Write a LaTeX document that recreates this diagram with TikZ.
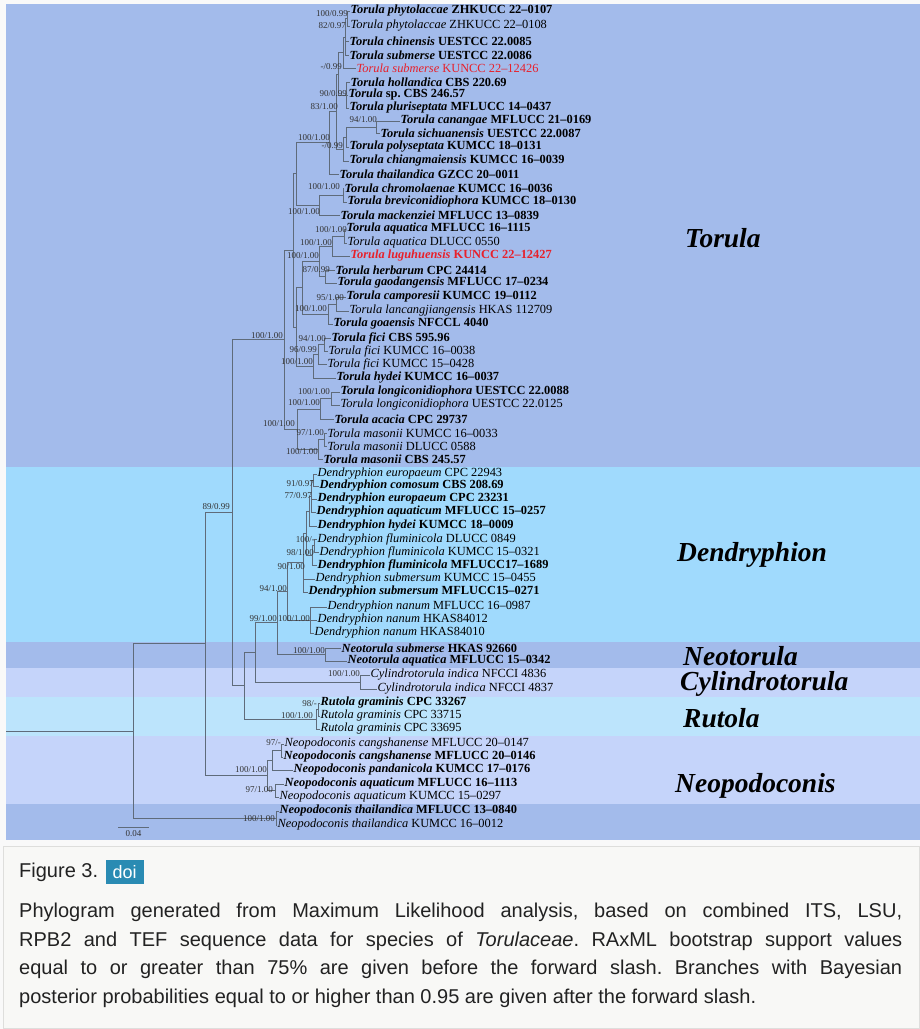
\documentclass[tikz,border=0pt]{standalone}
\usepackage{fontspec}
\setmainfont{Liberation Serif}
\newfontfamily\capsans{Liberation Sans}
\usetikzlibrary{positioning}
\definecolor{torband}{HTML}{A3BBEB}
\definecolor{denband}{HTML}{A0DAFD}
\definecolor{lavband}{HTML}{C5D4FA}
\definecolor{rutband}{HTML}{BCE4FC}
\definecolor{branchgray}{HTML}{5F6B7A}
\definecolor{newred}{HTML}{E8202A}
\definecolor{captionbg}{HTML}{F8F8F6}
\definecolor{captionline}{HTML}{DEDEDC}
\definecolor{doiblue}{HTML}{2A8BB3}
\definecolor{captext}{HTML}{222222}

\newcommand{\taxB}[2]{\textbf{\textit{#1} #2}}
\newcommand{\taxN}[2]{\textit{#1} #2}

\begin{document}
\frenchspacing
\begin{tikzpicture}[x=1pt, y=-1pt,
  tip/.style={anchor=west, inner sep=0.5pt, font=\fontsize{12.4}{13}\selectfont},
  newtip/.style={tip, text=newred},
  support/.style={anchor=east, inner sep=0pt, font=\fontsize{9}{10}\selectfont, text=black!80},
  clade/.style={anchor=west, inner sep=0pt, font=\fontsize{27.5}{30}\selectfont\bfseries\itshape},
  branch/.style={draw=branchgray, line width=0.7pt},
]
\useasboundingbox (0,0) rectangle (920,1029);
\fill[white!95!gray] (0,0) rectangle (920,1029);

% clade bands
\fill[torband] (6,4) rectangle (920,467);
\fill[denband] (6,467) rectangle (920,642);
\fill[torband] (6,642) rectangle (920,668);
\fill[lavband] (6,668) rectangle (920,697);
\fill[rutband] (6,697) rectangle (920,736);
\fill[lavband] (6,736) rectangle (920,804);
\fill[torband] (6,804) rectangle (920,840);

% taxa
\node[tip] (t01) at (350,11) {\taxB{Torula phytolaccae}{ZHKUCC 22--0107}};
\node[tip] (t02) at (350,26) {\taxN{Torula phytolaccae}{ZHKUCC 22--0108}};
\node[tip] (t03) at (349,41) {\taxB{Torula chinensis}{UESTCC 22.0085}};
\node[tip] (t04) at (349,55) {\taxB{Torula submerse}{UESTCC 22.0086}};
\node[newtip] (t05) at (356,68) {\taxN{Torula submerse}{KUNCC 22--12426}};
\node[tip] (t06) at (350,82) {\taxB{Torula hollandica}{CBS 220.69}};
\node[tip] (t07) at (348,95) {\taxB{Torula}{sp. CBS 246.57}};
\node[tip] (t08) at (349,108) {\taxB{Torula pluriseptata}{MFLUCC 14--0437}};
\node[tip] (t09) at (400,121) {\taxB{Torula canangae}{MFLUCC 21--0169}};
\node[tip] (t10) at (380,133) {\taxB{Torula sichuanensis}{UESTCC 22.0087}};
\node[tip] (t11) at (349,147) {\taxB{Torula polyseptata}{KUMCC 18--0131}};
\node[tip] (t12) at (349,161) {\taxB{Torula chiangmaiensis}{KUMCC 16--0039}};
\node[tip] (t13) at (339,174) {\taxB{Torula thailandica}{GZCC 20--0011}};
\node[tip] (t14) at (344,188) {\taxB{Torula chromolaenae}{KUMCC 16--0036}};
\node[tip] (t15) at (347,202) {\taxB{Torula breviconidiophora}{KUMCC 18--0130}};
\node[tip] (t16) at (340,215) {\taxB{Torula mackenziei}{MFLUCC 13--0839}};
\node[tip] (t17) at (346,229) {\taxB{Torula aquatica}{MFLUCC 16--1115}};
\node[tip] (t18) at (347,243) {\taxN{Torula aquatica}{DLUCC 0550}};
\node[newtip] (t19) at (350,256) {\taxB{Torula luguhuensis}{KUNCC 22--12427}};
\node[tip] (t20) at (335,270) {\taxB{Torula herbarum}{CPC 24414}};
\node[tip] (t21) at (337,283) {\taxB{Torula gaodangensis}{MFLUCC 17--0234}};
\node[tip] (t22) at (346,297) {\taxB{Torula camporesii}{KUMCC 19--0112}};
\node[tip] (t23) at (349,311) {\taxN{Torula lancangjiangensis}{HKAS 112709}};
\node[tip] (t24) at (333,324) {\taxB{Torula goaensis}{NFCCL 4040}};
\node[tip] (t25) at (331,338) {\taxB{Torula fici}{CBS 595.96}};
\node[tip] (t26) at (328,351) {\taxN{Torula fici}{KUMCC 16--0038}};
\node[tip] (t27) at (327,364) {\taxN{Torula fici}{KUMCC 15--0428}};
\node[tip] (t28) at (336,378) {\taxB{Torula hydei}{KUMCC 16--0037}};
\node[tip] (t29) at (340,392) {\taxB{Torula longiconidiophora}{UESTCC 22.0088}};
\node[tip] (t30) at (340,405) {\taxN{Torula longiconidiophora}{UESTCC 22.0125}};
\node[tip] (t31) at (334,419) {\taxB{Torula acacia}{CPC 29737}};
\node[tip] (t32) at (327,433) {\taxN{Torula masonii}{KUMCC 16--0033}};
\node[tip] (t33) at (327,446) {\taxN{Torula masonii}{DLUCC 0588}};
\node[tip] (t34) at (323,459) {\taxB{Torula masonii}{CBS 245.57}};
\node[tip] (t35) at (317,474) {\taxN{Dendryphion europaeum}{CPC 22943}};
\node[tip] (t36) at (319,486) {\taxB{Dendryphion comosum}{CBS 208.69}};
\node[tip] (t37) at (317,499) {\taxB{Dendryphion europaeum}{CPC 23231}};
\node[tip] (t38) at (316,512) {\taxB{Dendryphion aquaticum}{MFLUCC 15--0257}};
\node[tip] (t39) at (317,526) {\taxB{Dendryphion hydei}{KUMCC 18--0009}};
\node[tip] (t40) at (317,539) {\taxN{Dendryphion fluminicola}{DLUCC 0849}};
\node[tip] (t41) at (319,552) {\taxN{Dendryphion fluminicola}{KUMCC 15--0321}};
\node[tip] (t42) at (317,565) {\taxB{Dendryphion fluminicola}{MFLUCC17--1689}};
\node[tip] (t43) at (315,579) {\taxN{Dendryphion submersum}{KUMCC 15--0455}};
\node[tip] (t44) at (308,592) {\taxB{Dendryphion submersum}{MFLUCC15--0271}};
\node[tip] (t45) at (327,607) {\taxN{Dendryphion nanum}{MFLUCC 16--0987}};
\node[tip] (t46) at (317,620) {\taxN{Dendryphion nanum}{HKAS84012}};
\node[tip] (t47) at (314,633) {\taxN{Dendryphion nanum}{HKAS84010}};
\node[tip] (t48) at (341,648) {\taxB{Neotorula submerse}{HKAS 92660}};
\node[tip] (t49) at (347,661) {\taxB{Neotorula aquatica}{MFLUCC 15--0342}};
\node[tip] (t50) at (370,675) {\taxN{Cylindrotorula indica}{NFCCI 4836}};
\node[tip] (t51) at (377,689) {\taxN{Cylindrotorula indica}{NFCCI 4837}};
\node[tip] (t52) at (320,703) {\taxB{Rutola graminis}{CPC 33267}};
\node[tip] (t53) at (320,716) {\taxN{Rutola graminis}{CPC 33715}};
\node[tip] (t54) at (320,729) {\taxN{Rutola graminis}{CPC 33695}};
\node[tip] (t55) at (284,744) {\taxN{Neopodoconis cangshanense}{MFLUCC 20--0147}};
\node[tip] (t56) at (283,757) {\taxB{Neopodoconis cangshanense}{MFLUCC 20--0146}};
\node[tip] (t57) at (293,770) {\taxB{Neopodoconis pandanicola}{KUMCC 17--0176}};
\node[tip] (t58) at (284,784) {\taxB{Neopodoconis aquaticum}{MFLUCC 16--1113}};
\node[tip] (t59) at (279,797) {\taxN{Neopodoconis aquaticum}{KUMCC 15--0297}};
\node[tip] (t60) at (279,811) {\taxB{Neopodoconis thailandica}{MFLUCC 13--0840}};
\node[tip] (t61) at (277,825) {\taxN{Neopodoconis thailandica}{KUMCC 16--0012}};

% internal nodes
\coordinate (nA) at (347,18.5);  \coordinate (nB) at (345,37);
\coordinate (nC) at (343,52.5);  \coordinate (nD) at (346,95);
\coordinate (nE) at (338,74);    \coordinate (nH) at (376,127);
\coordinate (nI) at (346,137);   \coordinate (nJ) at (343,149);
\coordinate (nF) at (336,111);   \coordinate (nK) at (329,142);
\coordinate (nN) at (343,195);   \coordinate (nM) at (319,205);
\coordinate (nL) at (296,173.5);
\coordinate (Aq1) at (344,236);  \coordinate (Aq2) at (332,246);
\coordinate (He) at (325,276.5); \coordinate (Aq3) at (319,261);
\coordinate (Ca) at (336,304);   \coordinate (Go) at (328,314);
\coordinate (M1) at (302,287.5);
\coordinate (Fi1) at (324,344.5); \coordinate (Fi2) at (318,354);
\coordinate (Fi3) at (313,366);  \coordinate (M2) at (296,327);
\coordinate (T1) at (293,250);
\coordinate (Tlo) at (331,398.5); \coordinate (Tla) at (320,409);
\coordinate (Tm1) at (324,439.5); \coordinate (Tm0) at (318,449);
\coordinate (TL) at (297,429);   \coordinate (T0) at (284,339.5);
\coordinate (Deu1) at (313,480); \coordinate (Deu2) at (311,496);
\coordinate (Deu3) at (309,511); \coordinate (Dfl1) at (314,545.5);
\coordinate (Dfl2) at (312,555); \coordinate (Dtop) at (306,533);
\coordinate (D90) at (303,562);  \coordinate (Dnan) at (310,620);
\coordinate (D94) at (287,591);  \coordinate (Neo) at (325,654.5);
\coordinate (D99) at (277,622.75); \coordinate (Cyl) at (360,682);
\coordinate (Dbig) at (255,652);
\coordinate (Rut1) at (318,709.5); \coordinate (Rut) at (316,719);
\coordinate (nY) at (244,685.5); \coordinate (nX) at (232,512.5);
\coordinate (Nc1) at (281,750.5); \coordinate (Nc2) at (272,760);
\coordinate (Na) at (275,790.5); \coordinate (Np) at (267,775);
\coordinate (N89) at (205,643.75); \coordinate (Nt) at (276,818);
\coordinate (R) at (133,731);    \coordinate (base) at (6,731);

% branches
\foreach \p/\c in {nB/nA, nC/nB, nE/nC, nE/nD, nI/nH, nJ/nI, nF/nE, nF/nJ,
    nK/nF, nM/nN, nL/nK, nL/nM, Aq2/Aq1, Aq3/Aq2, Aq3/He, Go/Ca, M1/Aq3,
    M1/Go, Fi2/Fi1, Fi3/Fi2, M2/M1, M2/Fi3, T1/nL, T1/M2, Tla/Tlo, Tm0/Tm1,
    TL/Tla, TL/Tm0, T0/T1, T0/TL, Deu2/Deu1, Deu3/Deu2, Dfl2/Dfl1, Dtop/Deu3,
    Dtop/Dfl2, D90/Dtop, D94/D90, D94/Dnan, D99/D94, D99/Neo, Dbig/D99,
    Dbig/Cyl, Rut/Rut1, nY/Dbig, nY/Rut, nX/T0, nX/nY, Nc2/Nc1, Np/Nc2,
    Np/Na, N89/nX, N89/Np, R/N89, R/Nt}
  \draw[branch] (\p) |- (\c);
\foreach \p/\c in {nA/t01, nA/t02, nB/t03, nB/t04, nC/t05, nD/t06, nD/t07,
    nD/t08, nH/t09, nH/t10, nI/t11, nJ/t12, nK/t13, nN/t14, nN/t15, nM/t16,
    Aq1/t17, Aq1/t18, Aq2/t19, He/t20, He/t21, Ca/t22, Ca/t23, Go/t24,
    Fi1/t25, Fi1/t26, Fi2/t27, Fi3/t28, Tlo/t29, Tlo/t30, Tla/t31, Tm1/t32,
    Tm1/t33, Tm0/t34, Deu1/t35, Deu1/t36, Deu2/t37, Deu2/t38, Deu3/t39,
    Dfl1/t40, Dfl1/t41, Dfl2/t42, D90/t43, D90/t44, Dnan/t45, Dnan/t46,
    Dnan/t47, Neo/t48, Neo/t49, Cyl/t50, Cyl/t51, Rut1/t52, Rut1/t53,
    Rut/t54, Nc1/t55, Nc1/t56, Nc2/t57, Na/t58, Na/t59, Nt/t60, Nt/t61}
  \draw[branch] (\p) |- (\c.west);
\draw[branch] (base) -- (R);

% support values
\foreach \sx/\sy/\st [count=\k] in {348/14/{100/0.99}, 346/26/{82/0.97},
    342/67/{-/0.99}, 347/94/{90/0.99}, 338/107/{83/1.00}, 377/120/{94/1.00},
    330/138/{100/1.00}, 343/146/{-/0.99}, 340/187/{100/1.00},
    320/212/{100/1.00}, 347/230/{100/1.00}, 332/243/{100/1.00},
    319/256/{100/1.00}, 330/270/{87/0.99}, 344/298/{95/1.00},
    327/309/{100/1.00}, 283/336/{100/1.00}, 326/339/{94/1.00},
    317/350/{96/0.99}, 313/362/{100/1.00}, 330/392/{100/1.00},
    320/403/{100/1.00}, 295/424/{100/1.00}, 324/433/{97/1.00},
    318/452/{100/1.00}, 314/484/{91/0.97}, 312/496/{77/0.97},
    230/507/{89/0.99}, 315/540/{100/-}, 314/553/{98/1.00}, 305/567/{90/1.00},
    287/589/{94/1.00}, 277/619/{99/1.00}, 310/619/{100/1.00},
    325/651/{100/1.00}, 360/674/{100/1.00}, 317/704/{98/-},
    313/716/{100/1.00}, 281/743/{97/-}, 267/770/{100/1.00},
    273/790/{97/1.00}, 275/819/{100/1.00}}
  \node[support] (s\k) at (\sx,\sy) {\st};

% scale bar
\coordinate (sbl) at (118,827);
\coordinate (sbr) at (149,827);
\draw[branch] (sbl) -- (sbr);
\node[support, anchor=north] (sbtext) at (133.5,830) {0.04};

% genus labels
\node[clade] (gTor) at (685,238) {Torula};
\node[clade] (gDen) at (677,555) {Dendryphion};
\node[clade] (gNeo) at (683,656) {Neotorula};
\node[clade] (gCyl) at (680,684) {Cylindrotorula};
\node[clade] (gRut) at (683,718) {Rutola};
\node[clade] (gNpd) at (675,786) {Neopodoconis};

% caption
\filldraw[fill=captionbg, draw=captionline] (3,846) rectangle (919.5,1028);
\node[anchor=west, inner sep=0pt, text=captext,
      font=\capsans\fontsize{20}{22}\selectfont] (figlbl) at (19,872) {Figure 3.};
\node[right=7pt of figlbl, fill=doiblue, text=white, inner sep=0pt,
      minimum width=38pt, minimum height=24pt,
      font=\capsans\fontsize{18}{18}\selectfont] (doi) {doi};
\node[anchor=north west, inner sep=0pt, text width=883pt, align=justify,
      text=captext, font=\capsans\fontsize{20}{28.5}\selectfont] (capbody) at (19,903)
  {Phylogram generated from Maximum Likelihood analysis, based on combined ITS, LSU,\linebreak
   RPB2 and TEF sequence data for species of \textit{Torulaceae}. RAxML bootstrap support values\linebreak
   equal to or greater than 75\% are given before the forward slash. Branches with Bayesian\linebreak
   posterior probabilities equal to or higher than 0.95 are given after the forward slash.};
\end{tikzpicture}
\end{document}
